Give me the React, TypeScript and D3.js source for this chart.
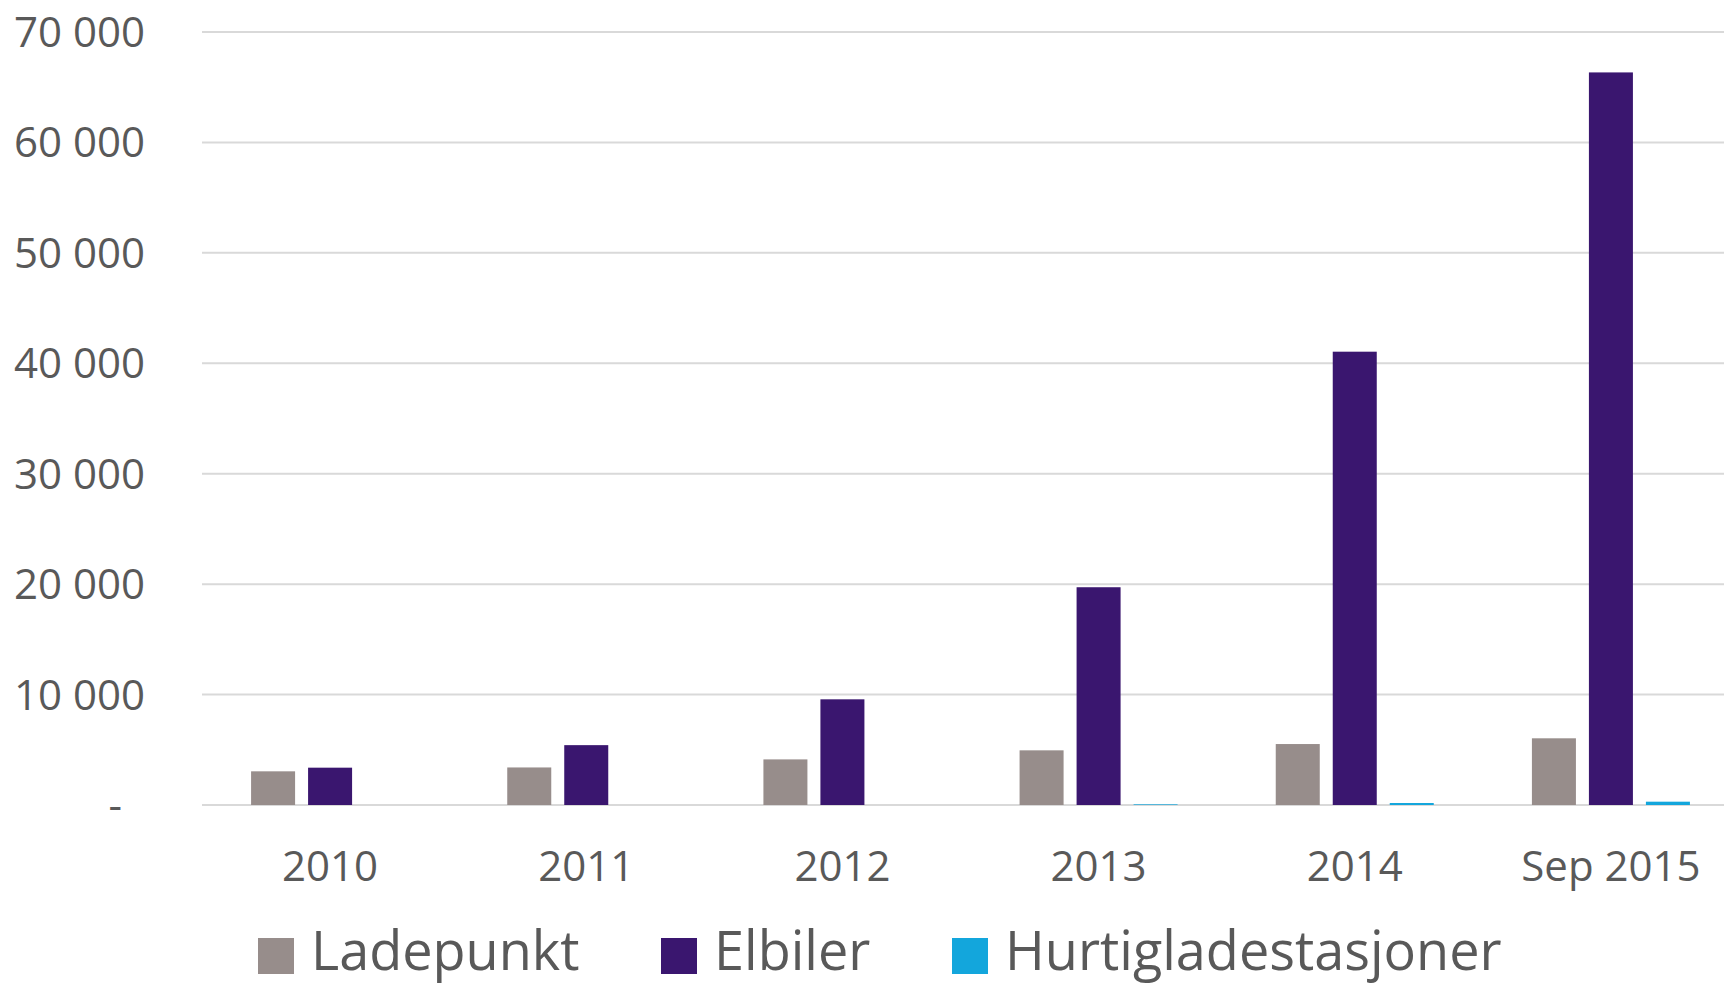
import * as d3 from "d3";
import React from "react";

// kategorier og serier
const categories = ["2010", "2011", "2012", "2013", "2014", "Sep 2015"];
const seriesNames = ["Ladepunkt", "Elbiler", "Hurtigladestasjoner"];
const ladepunkt = [3050, 3400, 4130, 4950, 5520, 6040];
const elbiler = [3380, 5420, 9570, 19720, 41050, 66340];
const hurtig = [0, 0, 0, 60, 180, 300];
const yTicks = [0, 10000, 20000, 30000, 40000, 50000, 60000, 70000];

const colors = ["#978d8b", "#3a166f", "#13a6dc"];
const textColor = "#595959";
const font = "'Open Sans', sans-serif";

const W = 1724;
const H = 987;
const margin = { top: 32, left: 202, bottom: 805, right: 1739 };

const App = () => {
  const values = [ladepunkt, elbiler, hurtig];

  const x0 = d3.scaleBand().domain(categories).range([margin.left, margin.right]);
  const groupW = 171;
  const x1 = d3
    .scaleBand()
    .domain(seriesNames)
    .range([(x0.bandwidth() - groupW) / 2, (x0.bandwidth() + groupW) / 2])
    .paddingInner(0.228)
    .paddingOuter(0.114);
  const y = d3.scaleLinear().domain([0, 70000]).range([margin.bottom, margin.top]);

  const fmt = (v: number) => (v === 0 ? "-" : d3.format(",")(v).replace(/,/g, " "));

  // legende-posisjoner (x for ruten)
  const legendX = [258, 661, 952];

  return (
    <svg width={W} height={H} style={{ position: "absolute", left: 0, top: 0, background: "#fff" }}>
      {/* rutenett */}
      {yTicks.map((t) => (
        <line key={"g" + t} x1={margin.left} x2={W} y1={y(t)} y2={y(t)} stroke="#d9d9d9" strokeWidth={2} />
      ))}
      {/* y-akse */}
      {yTicks.map((t) => (
        <text
          key={"y" + t}
          x={t === 0 ? 122 : 145}
          y={y(t) + 15}
          textAnchor="end"
          fontFamily={font}
          fontSize={42}
          fill={textColor}
        >
          {fmt(t)}
        </text>
      ))}
      {/* søyler */}
      {categories.map((c, i) => (
        <g key={c} transform={`translate(${x0(c)},0)`}>
          {seriesNames.map((s, j) => {
            const v = values[j][i];
            if (!v) return null;
            return (
              <rect
                key={s}
                x={x1(s)}
                y={y(v)}
                width={x1.bandwidth()}
                height={y(0) - y(v)}
                fill={colors[j]}
              />
            );
          })}
        </g>
      ))}
      {/* x-akse */}
      {categories.map((c) => (
        <text
          key={"x" + c}
          x={(x0(c) as number) + x0.bandwidth() / 2}
          y={881}
          textAnchor="middle"
          fontFamily={font}
          fontSize={42}
          fill={textColor}
        >
          {c}
        </text>
      ))}
      {/* legende */}
      {seriesNames.map((s, j) => (
        <g key={"l" + s}>
          <rect x={legendX[j]} y={938} width={36} height={36} fill={colors[j]} />
          <text x={legendX[j] + 53} y={970} fontFamily={font} fontSize={54} fill={textColor}>
            {s}
          </text>
        </g>
      ))}
    </svg>
  );
};

export default App;
